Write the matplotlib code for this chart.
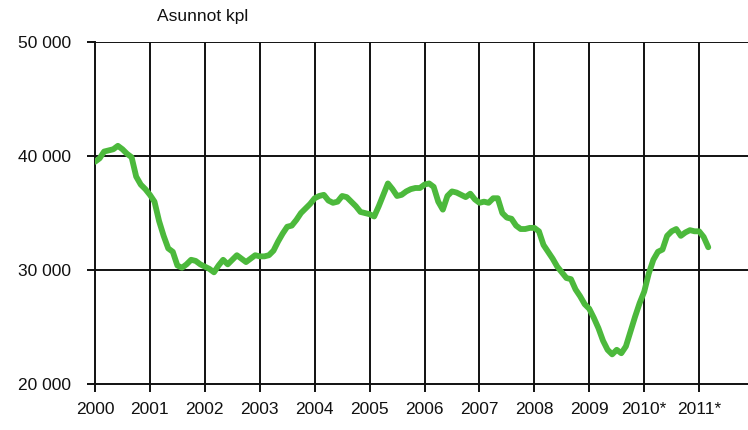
import matplotlib
matplotlib.use('Agg')
import matplotlib.pyplot as plt
import numpy as np

# Asuntojen määrä kuukausittain (tuhansina), tammikuu 2000 - maaliskuu 2011
asunnot_tuhatta = [
    39.5, 39.8, 40.4, 40.5, 40.6, 40.9, 40.6, 40.2, 39.9, 38.2, 37.5, 37.1,  # 2000
    36.6, 36.0, 34.3, 33.0, 31.9, 31.6, 30.4, 30.2, 30.5, 30.9, 30.8, 30.5,  # 2001
    30.3, 30.1, 29.8, 30.4, 30.9, 30.5, 30.9, 31.3, 31.0, 30.7, 31.0, 31.3,  # 2002
    31.2, 31.2, 31.3, 31.7, 32.5, 33.2, 33.8, 33.9, 34.4, 35.0, 35.4, 35.8,  # 2003
    36.3, 36.5, 36.6, 36.1, 35.9, 36.0, 36.5, 36.4, 36.0, 35.6, 35.1, 35.0,  # 2004
    34.9, 34.7, 35.6, 36.6, 37.6, 37.1, 36.5, 36.6, 36.9, 37.1, 37.2, 37.2,  # 2005
    37.5, 37.6, 37.3, 36.0, 35.3, 36.5, 36.9, 36.8, 36.6, 36.4, 36.7, 36.2,  # 2006
    35.9, 36.0, 35.9, 36.3, 36.3, 35.0, 34.6, 34.5, 33.9, 33.6, 33.6, 33.7,  # 2007
    33.7, 33.4, 32.2, 31.6, 31.0, 30.3, 29.8, 29.3, 29.2, 28.3, 27.7, 27.0,  # 2008
    26.6, 25.8, 24.9, 23.8, 23.0, 22.6, 23.0, 22.7, 23.3, 24.6, 25.9, 27.1,  # 2009
    28.1, 29.7, 30.9, 31.6, 31.8, 33.0, 33.4, 33.6, 33.0, 33.3, 33.5, 33.4,  # 2010
    33.4, 32.9, 32.0,                                                        # 2011
]
vuodet = list(range(2000, 2012))
vuosi_labels = ['2000', '2001', '2002', '2003', '2004', '2005', '2006',
                '2007', '2008', '2009', '2010*', '2011*']
y_ticks = [20000, 30000, 40000, 50000]
y_labels = ['20 000', '30 000', '40 000', '50 000']

plt.rcParams['font.family'] = ['Liberation Sans', 'DejaVu Sans']

arvot = np.array(asunnot_tuhatta) * 1000
x = 2000 + np.arange(len(arvot)) / 12

fig = plt.figure(figsize=(7.48, 4.30), dpi=100)
ax = fig.add_axes([0.127, 0.107, 0.873, 0.795])

for v in vuodet[1:]:
    ax.axvline(v, color='#111111', lw=1.4, zorder=1)
for yt in y_ticks[1:]:
    ax.axhline(yt, color='#111111', lw=1.4, zorder=1)

ax.plot(x, arvot, color='#4CB93C', lw=4.2, solid_capstyle='round',
        solid_joinstyle='round', zorder=3)

ax.set_xlim(2000, 2011.89)
ax.set_ylim(20000, 50000)
ax.set_xticks(vuodet)
ax.set_xticklabels(vuosi_labels)
ax.set_yticks(y_ticks)
ax.set_yticklabels(y_labels)

for s in ['top', 'right']:
    ax.spines[s].set_visible(False)
for s in ['left', 'bottom']:
    ax.spines[s].set_color('#111111')
    ax.spines[s].set_linewidth(1.4)

ax.tick_params(axis='x', direction='out', length=6, width=1.4, pad=7,
               labelsize=12.5, colors='#111111')
ax.tick_params(axis='y', direction='out', length=6, width=1.4, pad=11,
               labelsize=12.5, colors='#111111')

fig.text(157 / 748, 1 - 17 / 430, 'Asunnot kpl', ha='left', va='center',
         fontsize=12.5, color='#111111')

plt.savefig('out.png', dpi=100)
